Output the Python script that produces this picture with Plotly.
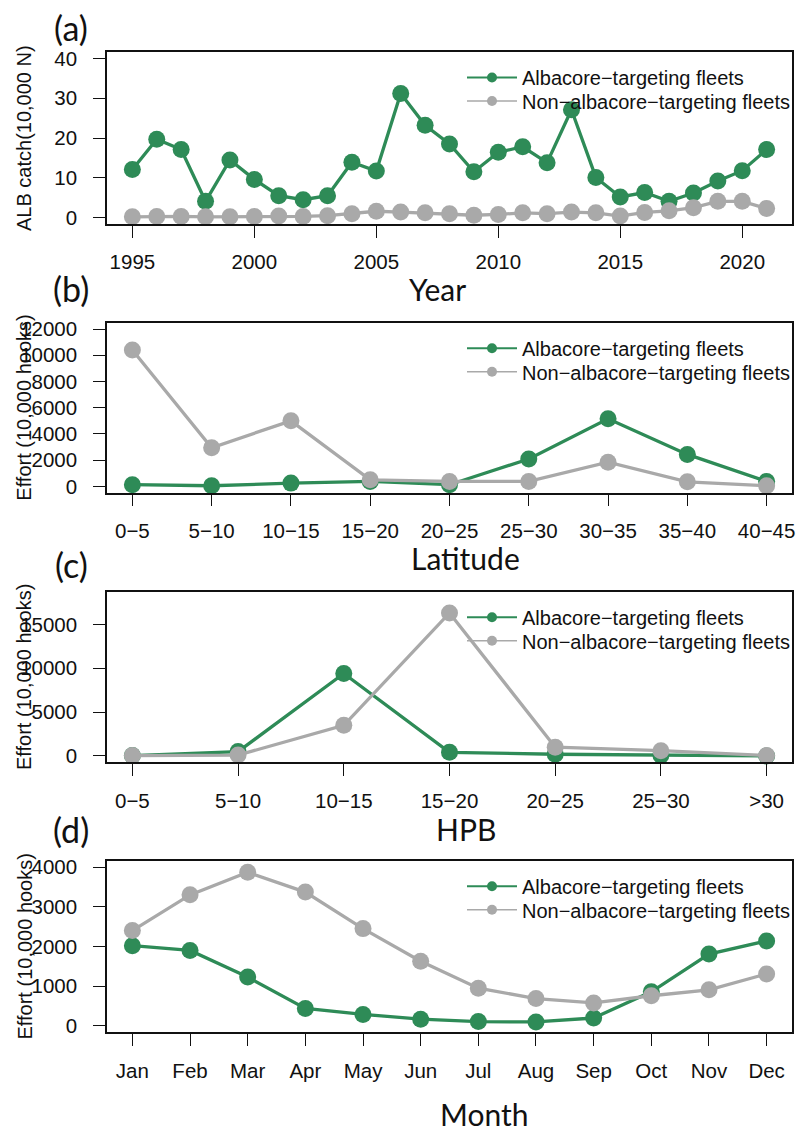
import plotly.graph_objects as go

# ---- data -------------------------------------------------------------
years = [1995, 1996, 1997, 1998, 1999, 2000, 2001, 2002, 2003, 2004, 2005, 2006, 2007,
         2008, 2009, 2010, 2011, 2012, 2013, 2014, 2015, 2016, 2017, 2018, 2019, 2020, 2021]
catch_alb = [12.1, 19.7, 17.1, 4.1, 14.5, 9.6, 5.5, 4.5, 5.5, 13.9, 11.7, 31.2, 23.2,
             18.5, 11.5, 16.4, 17.8, 13.8, 27.1, 10.1, 5.2, 6.3, 4.1, 6.2, 9.2, 11.8, 17.1]
catch_non = [0.2, 0.3, 0.3, 0.2, 0.2, 0.3, 0.4, 0.3, 0.5, 1.0, 1.6, 1.4, 1.2,
             1.0, 0.6, 0.8, 1.2, 1.0, 1.4, 1.2, 0.4, 1.3, 1.7, 2.5, 4.1, 4.1, 2.3]

lat_bins = ["0−5", "5−10", "10−15", "15−20", "20−25", "25−30", "30−35", "35−40", "40−45"]
lat_alb = [130, 50, 250, 380, 130, 2090, 5160, 2440, 380]
lat_non = [10400, 2950, 5000, 500, 380, 380, 1840, 350, 50]

hpb_bins = ["0−5", "5−10", "10−15", "15−20", "20−25", "25−30", ">30"]
hpb_alb = [50, 500, 9400, 420, 200, 80, 0]
hpb_non = [50, 100, 3500, 16300, 1000, 600, 50]

months = ["Jan", "Feb", "Mar", "Apr", "May", "Jun", "Jul", "Aug", "Sep", "Oct", "Nov", "Dec"]
mon_alb = [2020, 1900, 1230, 440, 290, 170, 110, 100, 200, 860, 1810, 2140]
mon_non = [2400, 3300, 3870, 3370, 2450, 1630, 950, 690, 580, 760, 910, 1310]

series_names = ["Albacore−targeting fleets", "Non−albacore−targeting fleets"]

# ---- styling ----------------------------------------------------------
W, H = 800, 1133
GREEN = "#2e8b57"
GREY = "#a9a9a9"
INK = "#111111"
SANS = "Liberation Sans, Arial, sans-serif"
TICK_FONT = dict(family=SANS, size=20.5, color=INK)
LEG_FONT = dict(family=SANS, size=20, color=INK)
TITLE_FONT = dict(family="Lato, sans-serif", size=30, color=INK)
LABEL_FONT = dict(family="Lato, sans-serif", size=34, color=INK)
YT_FONT = dict(family=SANS, size=20, color=INK)

X0, X1 = 107, 792                    # plot box left/right in px
# (top, bottom) of each plot box in px
boxes = [(52, 224), (322.7, 492.7), (591.7, 762.3), (860.7, 1032.3)]


def fx(px):
    return px / W


def fy(py):
    return 1 - py / H


panels = [
    dict(x=years, a=catch_alb, n=catch_non, xr=[1993.96, 2022.04], yr=[-1.6, 41.6],
         ytick=[0, 10, 20, 30, 40], ytitle="ALB catch(10,000 N)",
         label="(a)", lab_y=27, xtitle="Year", xt_pos=(437, 289)),
    dict(x=lat_bins, a=lat_alb, n=lat_non, xr=[-0.32, 8.32], yr=[-480, 12480],
         ytick=[0, 2000, 4000, 6000, 8000, 10000, 12000], ytitle="Effort (10,000 hooks)",
         label="(b)", lab_y=288, xtitle="Latitude", xt_pos=(465, 558)),
    dict(x=hpb_bins, a=hpb_alb, n=hpb_non, xr=[-0.24, 6.24], yr=[-720, 18720],
         ytick=[0, 5000, 10000, 15000], ytitle="Effort (10,000 hooks)",
         label="(c)", lab_y=564, xtitle="HPB", xt_pos=(466, 829)),
    dict(x=months, a=mon_alb, n=mon_non, xr=[-0.44, 11.44], yr=[-160, 4160],
         ytick=[0, 1000, 2000, 3000, 4000], ytitle="Effort (10,000 hooks)",
         label="(d)", lab_y=829, xtitle="Month", xt_pos=(484, 1114)),
]

fig = go.Figure()
annotations = []
layout_axes = {}
n_leg = 0

for i, p in enumerate(panels):
    k = "" if i == 0 else str(i + 1)
    xa, ya = "x" + k, "y" + k
    top, bot = boxes[i]

    # data lines (grey drawn over green)
    for vals, col in ((p["a"], GREEN), (p["n"], GREY)):
        fig.add_trace(go.Scatter(
            x=p["x"], y=vals, xaxis=xa, yaxis=ya, mode="lines+markers",
            line=dict(color=col, width=3.3), marker=dict(color=col, size=17),
            showlegend=False, cliponaxis=False, hoverinfo="skip"))

    # one legend per key row so the row spacing can be set freely
    for row, (name, col, lw) in enumerate(((series_names[0], GREEN, 2),
                                           (series_names[1], GREY, 1.6))):
        n_leg += 1
        leg = "legend" if n_leg == 1 else "legend%d" % n_leg
        fig.add_trace(go.Scatter(
            x=[None], y=[None], xaxis=xa, yaxis=ya, mode="lines+markers", name=name,
            line=dict(color=col, width=lw), marker=dict(color=col, size=10),
            legend=leg, showlegend=True))
        layout_axes[leg] = dict(
            x=fx(462), y=fy(top + 25.5 + row * 23.5), xanchor="left", yanchor="middle",
            bgcolor="rgba(0,0,0,0)", borderwidth=0, font=LEG_FONT, itemwidth=50)

    layout_axes["xaxis" + k] = dict(
        domain=[fx(X0), fx(X1)], anchor=ya, range=p["xr"],
        showline=True, mirror=True, linecolor=INK, linewidth=1.5,
        ticks="outside", ticklen=12, tickwidth=1.3, tickcolor=INK,
        tickfont=TICK_FONT, ticklabelstandoff=7, showgrid=False, zeroline=False,
        **({"tickvals": [1995, 2000, 2005, 2010, 2015, 2020]} if i == 0 else {"type": "category"}))
    layout_axes["yaxis" + k] = dict(
        domain=[fy(bot), fy(top)], anchor=xa, range=p["yr"], tickvals=p["ytick"],
        tickformat="d",
        showline=True, mirror=True, linecolor=INK, linewidth=1.5,
        ticks="outside", ticklen=12, tickwidth=1.3, tickcolor=INK,
        tickfont=TICK_FONT, ticklabelstandoff=12, showgrid=False, zeroline=False)

    annotations.append(dict(
        text=p["ytitle"], x=fx(24), y=fy((top + bot) / 2), xref="paper", yref="paper",
        textangle=-90, showarrow=False, font=YT_FONT, xanchor="center", yanchor="middle"))
    annotations.append(dict(
        text=p["label"], x=fx(71), y=fy(p["lab_y"]), xref="paper", yref="paper",
        showarrow=False, font=LABEL_FONT, xanchor="center", yanchor="middle"))
    annotations.append(dict(
        text=p["xtitle"], x=fx(p["xt_pos"][0]), y=fy(p["xt_pos"][1]), xref="paper",
        yref="paper", showarrow=False, font=TITLE_FONT, xanchor="center", yanchor="middle"))

fig.update_layout(
    width=W, height=H, paper_bgcolor="white", plot_bgcolor="white",
    margin=dict(l=0, r=0, t=0, b=0, autoexpand=False),
    annotations=annotations, **layout_axes)

fig.write_html("out.html")
